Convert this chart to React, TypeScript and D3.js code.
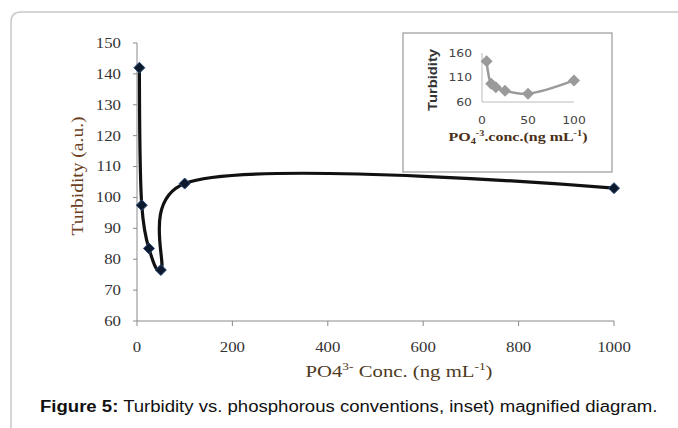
import React from 'react';
import * as d3 from 'd3';

// main series (ng/mL vs turbidity)
const conc = [5, 10, 25, 50, 100, 1000];
const turbidity = [142, 97.5, 83.5, 76.5, 104.5, 103];
const xTicks = [0, 200, 400, 600, 800, 1000];
const yTicks = [60, 70, 80, 90, 100, 110, 120, 130, 140, 150];

// inset (magnified low range)
const insetConc = [5, 10, 15, 25, 50, 100];
const insetTurb = [143, 97, 90, 83, 77, 104];
const insetXTicks = [0, 50, 100];
const insetYTicks = [60, 110, 160];

const W = 678, H = 428;

export default function App() {
  const x = d3.scaleLinear().domain([0, 1000]).range([137, 614]);
  const y = d3.scaleLinear().domain([60, 150]).range([321, 43]);
  const pts: [number, number][] = conc.map((c, i) => [x(c), y(turbidity[i])]);
  const line = d3.line().curve(d3.curveCatmullRom.alpha(0.26));
  const insetLine = d3.line().curve(d3.curveCatmullRom.alpha(0.5));

  const ix = d3.scaleLinear().domain([0, 100]).range([482, 574]);
  const iy = d3.scaleLinear().domain([60, 160]).range([102, 53]);
  const ipts: [number, number][] = insetConc.map((c, i) => [ix(c), iy(insetTurb[i])]);

  const diamond = (px: number, py: number, r: number) =>
    `M${px},${py - r}L${px + r},${py}L${px},${py + r}L${px - r},${py}Z`;

  return (
    <svg width={W} height={H} style={{ position: 'absolute', left: 0, top: 0 }}>
      <rect width={W} height={H} fill="#fff" />
      {/* frame */}
      <path d={`M11,${H}L11,22Q11,12 21,12L${W},12`} fill="none" stroke="#c8c8c8" strokeWidth={1.5} />

      {/* main axes */}
      <line x1={137} x2={137} y1={43} y2={321} stroke="#8a8a8a" />
      <line x1={137} x2={614} y1={321} y2={321} stroke="#8a8a8a" />
      {yTicks.map(t => (
        <g key={'y' + t}>
          <line x1={133} x2={137} y1={y(t)} y2={y(t)} stroke="#8a8a8a" />
          <text transform={`translate(121,${y(t)}) scale(1.2,1)`} dy="0.35em" textAnchor="end" fontFamily="Liberation Serif" fontSize={14} fill="#333">{t}</text>
        </g>
      ))}
      {xTicks.map(t => (
        <g key={'x' + t}>
          <line x1={x(t)} x2={x(t)} y1={321} y2={326} stroke="#8a8a8a" />
          <text transform={`translate(${x(t)},347) scale(1.2,1)`} dy="0.35em" textAnchor="middle" fontFamily="Liberation Serif" fontSize={14} fill="#333">{t}</text>
        </g>
      ))}
      <text transform="translate(83,176) rotate(-90) scale(1.22,1)" textAnchor="middle" fontFamily="Liberation Serif" fontSize={16} fill="#6b3e1e">Turbidity (a.u.)</text>
      <text transform="translate(399,377) scale(1.22,1)" textAnchor="middle" fontFamily="Liberation Serif" fontSize={17} fill="#4f3a22">
        PO4<tspan fontSize={11} dy={-7}>3-</tspan><tspan dy={7}> Conc. (ng mL</tspan><tspan fontSize={11} dy={-7}>-1</tspan><tspan dy={7}>)</tspan>
      </text>

      <path d={line(pts) || ''} fill="none" stroke="#111" strokeWidth={3.2} />
      {pts.map(([px, py], i) => (
        <path key={'m' + i} d={diamond(px, py, 5.5)} fill="#0d1a2e" stroke="#2b4a78" strokeWidth={1} />
      ))}

      {/* inset */}
      <rect x={403} y={33} width={209} height={139} fill="#fff" stroke="#9a9a9a" strokeWidth={1.2} />
      <line x1={482} x2={482} y1={53} y2={102} stroke="#bbb" />
      <line x1={482} x2={574} y1={102} y2={102} stroke="#bbb" />
      {insetYTicks.map(t => (
        <text key={'iy' + t} transform={`translate(472,${iy(t)}) scale(1.25,1)`} dy="0.35em" textAnchor="end" fontFamily="DejaVu Sans Condensed" fontSize={11} fill="#444">{t}</text>
      ))}
      {insetXTicks.map(t => (
        <text key={'ix' + t} transform={`translate(${ix(t)},120) scale(1.25,1)`} dy="0.35em" textAnchor="middle" fontFamily="DejaVu Sans Condensed" fontSize={11} fill="#444">{t}</text>
      ))}
      <text transform="translate(437,80) rotate(-90)" textAnchor="middle" fontFamily="Liberation Sans" fontWeight="bold" fontSize={12} textLength={62} lengthAdjust="spacingAndGlyphs" fill="#333">Turbidity</text>
      <text transform="translate(518,141) scale(1.28,1)" textAnchor="middle" fontFamily="Liberation Serif" fontWeight="bold" fontSize={12.5} fill="#4a3018">
        PO<tspan fontSize={8} dy={3}>4</tspan><tspan fontSize={8} dy={-8}>-3</tspan><tspan dy={5}>.conc.(ng mL</tspan><tspan fontSize={8} dy={-5}>-1</tspan><tspan dy={5}>)</tspan>
      </text>
      <path d={insetLine(ipts) || ''} fill="none" stroke="#9a9a9a" strokeWidth={2.5} />
      {ipts.map(([px, py], i) => (
        <path key={'im' + i} d={diamond(px, py, 6)} fill="#9a9a9a" />
      ))}

      {/* caption */}
      <text transform="translate(40,412) scale(1.16,1)" fontFamily="Liberation Sans" fontSize={16} fill="#111">
        <tspan fontWeight="bold">Figure 5:</tspan> Turbidity vs. phosphorous conventions, inset) magnified diagram.
      </text>
    </svg>
  );
}
